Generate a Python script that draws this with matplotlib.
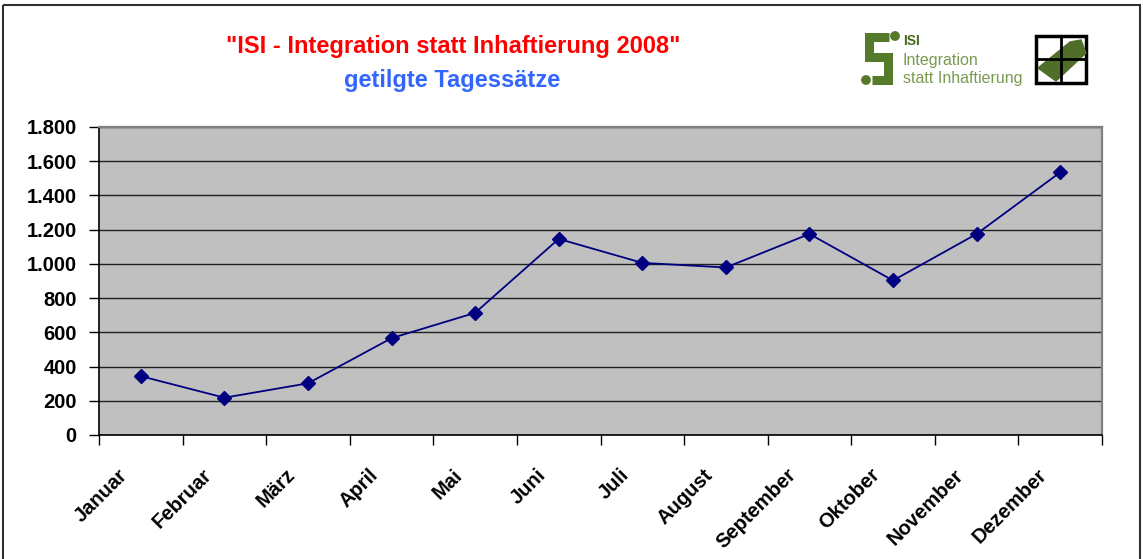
import matplotlib
matplotlib.use('Agg')
import matplotlib.pyplot as plt
import matplotlib.transforms as mtransforms
import numpy as np
from matplotlib.patches import Rectangle, Polygon, Circle
from matplotlib.ticker import FuncFormatter, FixedLocator

plt.rcParams['font.family'] = ['Liberation Sans', 'DejaVu Sans']

months = ['Januar', 'Februar', 'März', 'April', 'Mai', 'Juni', 'Juli',
          'August', 'September', 'Oktober', 'November', 'Dezember']
values = [344, 218, 302, 566, 714, 1146, 1006, 979, 1175, 903, 1175, 1535]
y_ticks = [0, 200, 400, 600, 800, 1000, 1200, 1400, 1600, 1800]

title = '"ISI - Integration statt Inhaftierung 2008"'
subtitle = 'getilgte Tagessätze'

W, H = 1143, 559
fig = plt.figure(figsize=(W / 100, H / 100), dpi=100)

# main plot area (pixel box 99..1102 x 127..435)
ax = fig.add_axes([99 / W, 1 - 435 / H, 1003 / W, 308 / H])
ax.set_facecolor('#C0C0C0')
x = np.arange(len(months))
ax.plot(x, values, color='#000080', lw=1.3, marker='D', markersize=7,
        markerfacecolor='#000080', markeredgecolor='#000080', zorder=3)

ax.set_xlim(-0.5, len(months) - 0.5)
ax.set_ylim(0, 1800)
ax.set_yticks(y_ticks)
ax.yaxis.set_major_formatter(FuncFormatter(lambda v, p: f'{int(v):,}'.replace(',', '.')))
ax.yaxis.grid(True, color='#202020', lw=1)
ax.set_axisbelow(True)

# category ticks sit between months, labels drawn slanted below
ax.set_xticks(x)
ax.set_xticklabels([])
ax.xaxis.set_minor_locator(FixedLocator(np.arange(-0.5, len(months), 1.0)))
ax.tick_params(axis='x', which='major', length=0)
ax.tick_params(axis='x', which='minor', length=7, width=1, color='black', direction='out')
ax.tick_params(axis='y', length=7, width=1, color='black', direction='out', pad=9,
               labelsize=14.5)
for lab in ax.get_yticklabels():
    lab.set_fontweight('bold')

lab_tr = ax.get_xaxis_transform() + mtransforms.ScaledTranslation(
    -16 / 100, -37 / 100, fig.dpi_scale_trans)
for xi, m in zip(x, months):
    ax.text(xi, 0, m, transform=lab_tr, rotation=45, ha='right', va='center',
            rotation_mode='anchor', fontsize=14.5, fontweight='bold', clip_on=False)

for s in ['left', 'bottom']:
    ax.spines[s].set_color('black')
    ax.spines[s].set_linewidth(1.2)
for s in ['top', 'right']:
    ax.spines[s].set_color('#808080')
    ax.spines[s].set_linewidth(1.6)

# overlay in pixel coordinates for titles, logo and frame
ov = fig.add_axes([0, 0, 1, 1], facecolor='none')
ov.set_xlim(0, W)
ov.set_ylim(H, 0)
ov.axis('off')

ov.add_patch(Rectangle((3, 5), 1137, 560, fill=False, edgecolor='#303030', lw=1.5))

ov.text(453, 47, title, color='#FF0000', fontsize=17, fontweight='bold',
        ha='center', va='center')
ov.text(452, 80, subtitle, color='#3366FF', fontsize=17, fontweight='bold',
        ha='center', va='center')

# logo
green = '#557a2a'
ov.plot([889, 869, 869, 888, 888, 872], [37, 37, 57, 57, 80, 80],
        color=green, lw=6.5, solid_joinstyle='miter', solid_capstyle='butt')
ov.add_patch(Circle((895, 36), 4.2, color=green))
ov.add_patch(Circle((866, 80), 4.2, color=green))
ov.text(903, 41, 'ISI', color='#4a6a20', fontsize=10, fontweight='bold',
        ha='left', va='center')
ov.text(903, 60, 'Integration', color='#7a9a50', fontsize=11.5, ha='left', va='center')
ov.text(903, 78, 'statt Inhaftierung', color='#7a9a50', fontsize=11.5,
        ha='left', va='center')

ov.add_patch(Rectangle((1036, 36), 50, 47, fill=False, edgecolor='black', lw=2.5))
ov.plot([1061, 1061], [36, 83], color='black', lw=2)
ov.plot([1036, 1086], [59, 59], color='black', lw=2)
ov.add_patch(Polygon([(1038, 68), (1056, 81), (1086, 53), (1081, 40), (1070, 42)],
                     closed=True, color='#4f6e28'))

fig.savefig('out.png', dpi=100)
